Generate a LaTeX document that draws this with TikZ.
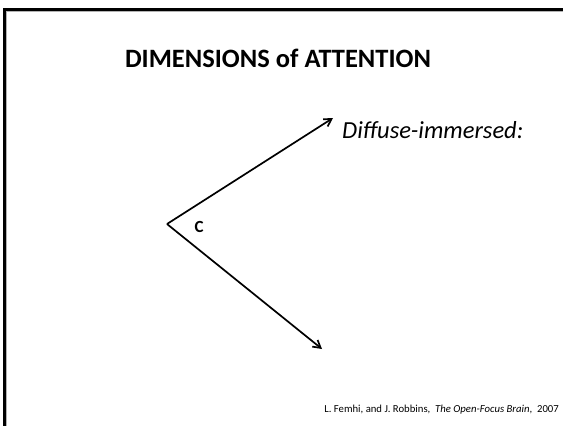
\documentclass[tikz,border=0pt]{standalone}
\usepackage{fontspec}
\setmainfont{Carlito}
\usetikzlibrary{arrows.meta}

\begin{document}
\begin{tikzpicture}[x=1pt, y=-1pt, every node/.style={inner sep=0pt}, >={Straight Barb[length=2.6mm, width=3mm]}]
	\useasboundingbox (0,0) rectangle (563,426);
	\draw[gray!60, line width=1pt] (6.5,430) -- (6.5,11.5) -- (570,11.5);
	\draw[line width=2.4pt] (4.5,430) -- (4.5,9.5) -- (570,9.5);
	\node (title) [font=\fontsize{26.5}{30}\selectfont\bfseries] at (278,58) {DIMENSIONS of ATTENTION};
	\coordinate (v) at (167,224);
	\coordinate (up) at (333,118);
	\coordinate (down) at (322,349);
	\draw[->, line width=1.7pt] (v) -- (up);
	\draw[->, line width=1.7pt] (v) -- (down);
	\node (c) [font=\fontsize{17}{20}\selectfont\bfseries] at (199,227) {C};
	\node (diffuse) [anchor=west, font=\fontsize{24.5}{28}\selectfont\itshape] at (342,130) {Diffuse-immersed:};
	\node (ref) [anchor=east, font=\fontsize{10.7}{12}\selectfont] at (559,410) {L. Femhi, and J. Robbins,~ \textit{The Open-Focus Brain},~ 2007};
\end{tikzpicture}
\end{document}
